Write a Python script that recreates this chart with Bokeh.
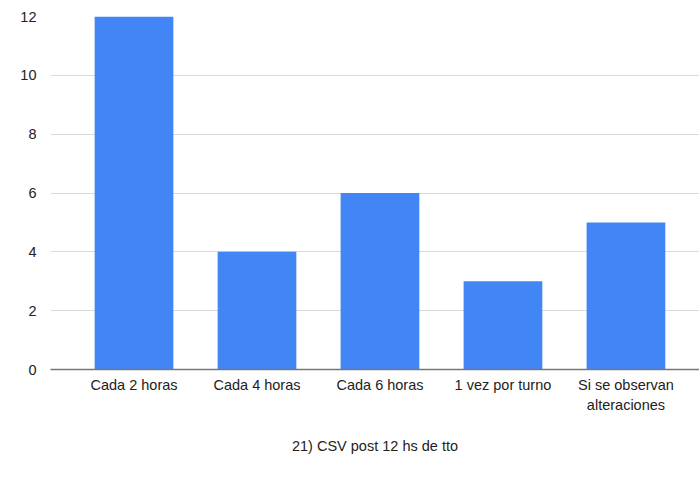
from bokeh.plotting import figure
from bokeh.models import FixedTicker, Range1d, ColumnDataSource
from bokeh.embed import file_html
from bokeh.resources import INLINE

categories = ["Cada 2 horas", "Cada 4 horas", "Cada 6 horas", "1 vez por turno", "Si se observan\nalteraciones"]
values = [12, 4, 6, 3, 5]
y_ticks = [0, 2, 4, 6, 8, 10, 12]
x_title = "21) CSV post 12 hs de tto"

xs = list(range(len(categories)))
src = ColumnDataSource(dict(x=xs, top=values))

p = figure(width=699, height=481, output_backend="svg", toolbar_location=None,
           x_range=Range1d(-0.679, 4.598), y_range=Range1d(0, 12),
           min_border_left=50, min_border_right=0, min_border_top=16, min_border_bottom=112)
p.outline_line_color = None
p.background_fill_color = "white"

p.vbar(x="x", top="top", width=0.64, source=src, fill_color="#4285f4", line_color=None)

font = "Liberation Sans"
fs = "14.5px"

p.xaxis.ticker = FixedTicker(ticks=xs)
p.xaxis.major_label_overrides = {i: c for i, c in enumerate(categories)}
p.xaxis.major_tick_line_color = None
p.xaxis.minor_tick_line_color = None
p.xaxis.axis_line_color = "#777777"
p.xaxis.axis_line_width = 1.5
p.xaxis.major_label_standoff = 1
p.xaxis.major_label_text_font = font
p.xaxis.major_label_text_font_size = fs
p.xaxis.major_label_text_color = "#222222"
p.xaxis.major_label_text_line_height = 1.3
p.xaxis.axis_label = x_title
p.xaxis.axis_label_text_font = font
p.xaxis.axis_label_text_font_size = fs
p.xaxis.axis_label_text_font_style = "normal"
p.xaxis.axis_label_text_color = "#222222"
p.xaxis.axis_label_standoff = 22

p.yaxis.ticker = FixedTicker(ticks=y_ticks)
p.yaxis.axis_line_color = None
p.yaxis.major_tick_line_color = None
p.yaxis.minor_tick_line_color = None
p.yaxis.major_label_standoff = 8
p.yaxis.major_label_text_font = font
p.yaxis.major_label_text_font_size = fs
p.yaxis.major_label_text_color = "#222222"

p.xgrid.grid_line_color = None
p.ygrid.ticker = FixedTicker(ticks=y_ticks)
p.ygrid.grid_line_color = "#d9d9d9"
p.ygrid.grid_line_width = 1

open("out.html", "w").write(file_html(p, INLINE))
